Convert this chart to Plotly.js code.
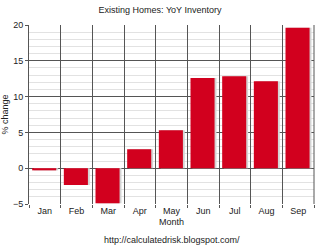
<!DOCTYPE html>
<html>
<head>
<meta charset="utf-8">
<script src="https://cdn.plot.ly/plotly-3.0.1.min.js"></script>
<style>html,body{margin:0;padding:0;background:#fff;}#chart{width:320px;height:247px;}</style>
</head>
<body>
<div id="chart"></div>
<script>
var months = ["Jan","Feb","Mar","Apr","May","Jun","Jul","Aug","Sep"];
var yoyChange = [-0.3, -2.35, -4.9, 2.65, 5.3, 12.6, 12.85, 12.15, 19.6];
var yTickVals = [-5, 0, 5, 10, 15, 20];

var FONT = "Liberation Sans, Arial, sans-serif";

var shadow = {
  type: "bar", x: months, y: yoyChange,
  marker: {color: "#d4d4d4", line: {width: 0}},
  width: 0.76, offset: -0.34,
  hoverinfo: "skip", showlegend: false
};
var bars = {
  type: "bar", x: months, y: yoyChange,
  marker: {color: "#d2001e", line: {width: 0}},
  width: 0.76, offset: -0.40,
  showlegend: false
};

var layout = {
  width: 320, height: 247,
  margin: {l: 29, r: 6, t: 25, b: 43},
  paper_bgcolor: "#fff", plot_bgcolor: "#fff",
  barmode: "overlay",
  font: {family: FONT, size: 9, color: "#222"},
  title: {text: "Existing Homes: YoY Inventory", font: {family: FONT, size: 9, color: "#222"}, x: 0.5, xanchor: "center", y: 0.96, yanchor: "middle"},
  xaxis: {
    range: [-0.5, 8.5], tickson: "boundaries", showgrid: true, gridcolor: "#555", gridwidth: 1,
    ticks: "outside", ticklen: 3, tickcolor: "#555", showline: false, zeroline: false,
    tickfont: {family: FONT, size: 9, color: "#222"},
    title: {text: "Month", font: {family: FONT, size: 9, color: "#222"}, standoff: 3},
    fixedrange: true
  },
  yaxis: {
    range: [-5, 20], tickvals: yTickVals, showgrid: true, gridcolor: "#555", gridwidth: 1,
    zeroline: true, zerolinecolor: "#555", zerolinewidth: 1,
    ticks: "outside", ticklen: 3, tickcolor: "#555", showline: true, linecolor: "#555",
    minor: {dtick: 1, showgrid: true, gridcolor: "#e2e2e2", gridwidth: 1, ticks: ""},
    tickfont: {family: FONT, size: 9, color: "#222"},
    title: {text: "% change", font: {family: FONT, size: 9, color: "#222"}, standoff: 7},
    fixedrange: true
  },
  shapes: [
    {type: "line", xref: "paper", yref: "paper", x0: 1, x1: 1, y0: 0, y1: 1, line: {color: "#555", width: 1}}
  ],
  annotations: [
    {text: "http://calculatedrisk.blogspot.com/", xref: "paper", yref: "paper", x: 0.5, y: -0.2, xanchor: "center", yanchor: "middle", showarrow: false, font: {family: FONT, size: 9, color: "#222"}}
  ]
};

Plotly.newPlot("chart", [shadow, bars], layout, {displayModeBar: false, staticPlot: true});
</script>
</body>
</html>
